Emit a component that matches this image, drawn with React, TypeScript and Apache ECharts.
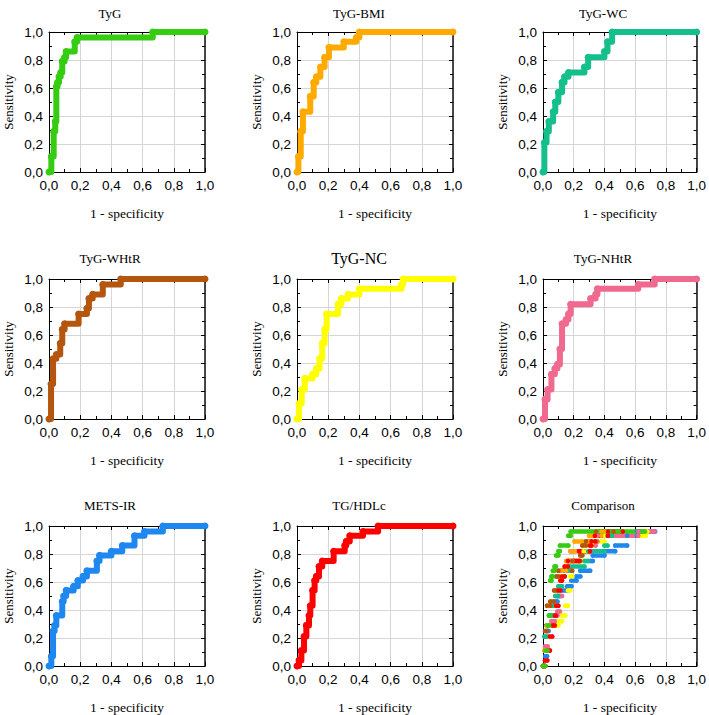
import React, { useEffect, useRef } from "react";
import * as echarts from "echarts";

// ---- data (ROC corner points: fpr = 1 - specificity, tpr = sensitivity) ----
const panelTitles = ["TyG", "TyG-BMI", "TyG-WC", "TyG-WHtR", "TyG-NC", "TyG-NHtR", "METS-IR", "TG/HDLc", "Comparison"];

const tygFpr = [0, 0.015, 0.03, 0.04, 0.047, 0.055, 0.064, 0.075, 0.085, 0.1, 0.11, 0.165, 0.18, 0.665, 1];
const tygTpr = [0, 0.11, 0.29, 0.36, 0.61, 0.64, 0.68, 0.71, 0.79, 0.82, 0.86, 0.93, 0.96, 1, 1];

const bmiFpr = [0, 0.009, 0.024, 0.038, 0.085, 0.107, 0.124, 0.15, 0.177, 0.205, 0.3, 0.38, 0.4, 1];
const bmiTpr = [0, 0.11, 0.29, 0.43, 0.54, 0.64, 0.68, 0.75, 0.82, 0.89, 0.93, 0.96, 1, 1];

const wcFpr = [0, 0.009, 0.023, 0.038, 0.066, 0.08, 0.1, 0.124, 0.14, 0.166, 0.27, 0.294, 0.4, 0.42, 0.45, 1];
const wcTpr = [0, 0.21, 0.29, 0.36, 0.43, 0.5, 0.57, 0.64, 0.68, 0.71, 0.75, 0.82, 0.86, 0.93, 1, 1];

const whtrFpr = [0, 0.013, 0.026, 0.047, 0.072, 0.085, 0.1, 0.19, 0.243, 0.256, 0.28, 0.345, 0.46, 1];
const whtrTpr = [0, 0.25, 0.43, 0.46, 0.54, 0.64, 0.68, 0.75, 0.79, 0.86, 0.89, 0.96, 1, 1];

const ncFpr = [0, 0.013, 0.03, 0.05, 0.1, 0.124, 0.145, 0.162, 0.177, 0.19, 0.263, 0.284, 0.327, 0.4, 0.67, 0.68, 1];
const ncTpr = [0, 0.11, 0.21, 0.29, 0.32, 0.36, 0.43, 0.54, 0.64, 0.75, 0.82, 0.86, 0.89, 0.93, 0.96, 1, 1];

const nhtrFpr = [0, 0.013, 0.03, 0.055, 0.077, 0.094, 0.11, 0.124, 0.15, 0.166, 0.18, 0.31, 0.343, 0.354, 0.62, 0.727, 1];
const nhtrTpr = [0, 0.14, 0.21, 0.32, 0.36, 0.39, 0.5, 0.68, 0.71, 0.75, 0.82, 0.86, 0.89, 0.93, 0.96, 1, 1];

const metsFpr = [0, 0.015, 0.026, 0.036, 0.047, 0.085, 0.094, 0.11, 0.158, 0.185, 0.218, 0.243, 0.307, 0.324, 0.4, 0.47, 0.548, 0.612, 0.73, 1];
const metsTpr = [0, 0.07, 0.25, 0.29, 0.36, 0.46, 0.5, 0.54, 0.57, 0.61, 0.64, 0.68, 0.75, 0.79, 0.82, 0.86, 0.93, 0.96, 1, 1];

const tghdlFpr = [0, 0.013, 0.028, 0.045, 0.06, 0.077, 0.085, 0.1, 0.113, 0.124, 0.141, 0.162, 0.235, 0.306, 0.316, 0.338, 0.423, 0.52, 1];
const tghdlTpr = [0, 0.04, 0.11, 0.21, 0.29, 0.36, 0.43, 0.54, 0.61, 0.64, 0.71, 0.75, 0.82, 0.86, 0.89, 0.93, 0.96, 1, 1];

const curveFpr = [tygFpr, bmiFpr, wcFpr, whtrFpr, ncFpr, nhtrFpr, metsFpr, tghdlFpr];
const curveTpr = [tygTpr, bmiTpr, wcTpr, whtrTpr, ncTpr, nhtrTpr, metsTpr, tghdlTpr];
const curveColors = ["#35cc12", "#ffaa00", "#14bf8c", "#b5560e", "#ffff00", "#f0698f", "#1e88f0", "#ff0000"];
// drawing order in the comparison panel (last on top)
const comparisonOrder = [6, 4, 5, 2, 1, 3, 7, 0];

// ---- layout ----
const colLeft = [49, 297, 543];
const rowTop = [32, 279, 526];
const plotW = 156;
const plotH = 140;
const titleCenterX = [105, 354, 598];

const SANS = "Liberation Sans, Arial, sans-serif";
const SERIF = "Liberation Serif, Times New Roman, serif";
const fmt = (v: number) => v.toFixed(1).replace(".", ",");

function buildOption() {
  const grid: any[] = [];
  const xAxis: any[] = [];
  const yAxis: any[] = [];
  const title: any[] = [];
  const series: any[] = [];

  for (let i = 0; i < 9; i++) {
    const c = i % 3;
    const r = Math.floor(i / 3);
    grid.push({ left: colLeft[c], top: rowTop[r], width: plotW, height: plotH, containLabel: false });

    const common = {
      type: "value",
      gridIndex: i,
      min: 0,
      max: 1,
      interval: 0.2,
      axisLine: { show: true, onZero: false, lineStyle: { color: "#000", width: 1 } },
      axisTick: { show: true, inside: true, length: 4, lineStyle: { color: "#000", width: 1 } },
      minorTick: { show: true, splitNumber: 2, length: 3, lineStyle: { color: "#000", width: 1 } },
    };

    xAxis.push({
      ...common,
      position: "bottom",
      axisLabel: { formatter: fmt, color: "#000", fontFamily: SANS, fontSize: 13.5, margin: 6, showMinLabel: true, showMaxLabel: true },
      splitLine: { show: true, lineStyle: { color: "#d6d6d6", width: 1 } },
      name: "1 - specificity",
      nameLocation: "middle",
      nameGap: 34,
      nameTextStyle: { fontFamily: SERIF, fontSize: 13.5, color: "#000" },
    });
    xAxis.push({
      ...common,
      position: "top",
      axisLabel: { show: false },
      splitLine: { show: false },
    });
    yAxis.push({
      ...common,
      position: "left",
      axisLabel: { formatter: fmt, color: "#000", fontFamily: SANS, fontSize: 13.5, margin: 6, showMinLabel: true, showMaxLabel: true },
      splitLine: { show: true, lineStyle: { color: "#d6d6d6", width: 1 } },
      name: "Sensitivity",
      nameLocation: "middle",
      nameRotate: 90,
      nameGap: 34,
      nameTextStyle: { fontFamily: SERIF, fontSize: 13, color: "#000" },
    });
    yAxis.push({
      ...common,
      position: "right",
      axisLine: { show: true, onZero: false, lineStyle: { color: "#111", width: 1.5 } },
      axisLabel: { show: false },
      splitLine: { show: false },
    });

    const isNC = i === 4;
    const fs = isNC ? 16 : 13;
    const titleCenterY = r === 0 ? 10 : r === 1 ? 255 : 502;
    title.push({
      text: panelTitles[i],
      left: titleCenterX[c],
      top: titleCenterY - fs * 0.6,
      textAlign: "center",
      textStyle: { fontFamily: SERIF, fontSize: fs, fontWeight: "normal", color: "#000" },
    });

    if (i < 8) {
      const fpr = curveFpr[i];
      const tpr = curveTpr[i];
      series.push({
        type: "line",
        xAxisIndex: 2 * i,
        yAxisIndex: 2 * i,
        data: fpr.map((x, j) => [x, tpr[j]]),
        step: "end",
        clip: false,
        silent: true,
        showSymbol: true,
        symbol: "circle",
        symbolSize: 7,
        itemStyle: { color: curveColors[i] },
        lineStyle: { color: curveColors[i], width: 6, cap: "round", join: "round" },
      });
    } else {
      comparisonOrder.forEach((k) => {
        const fpr = curveFpr[k];
        const tpr = curveTpr[k];
        const data: any[] = [];
        for (let j = 0; j < fpr.length - 1; j++) {
          if (tpr[j] >= 1) continue;
          data.push([fpr[j], tpr[j]]);
          data.push([fpr[j + 1], tpr[j]]);
          data.push("-");
        }
        series.push({
          type: "line",
          xAxisIndex: 2 * i,
          yAxisIndex: 2 * i,
          data,
          connectNulls: false,
          clip: true,
          silent: true,
          showSymbol: true,
          symbol: "circle",
          symbolSize: 4.5,
          itemStyle: { color: curveColors[k] },
          lineStyle: { color: curveColors[k], width: 4.5, cap: "round" },
        });
      });
    }
  }

  return {
    animation: false,
    backgroundColor: "#ffffff",
    title,
    grid,
    xAxis,
    yAxis,
    series,
  };
}

export default function App() {
  const ref = useRef<HTMLDivElement>(null);
  useEffect(() => {
    if (!ref.current) return;
    const chart = echarts.init(ref.current, null, { renderer: "svg" });
    chart.setOption(buildOption() as any);
    return () => chart.dispose();
  }, []);
  return (
    <div
      ref={ref}
      style={{ position: "absolute", left: 0, top: 0, width: 709, height: 715, background: "#fff" }}
    />
  );
}
